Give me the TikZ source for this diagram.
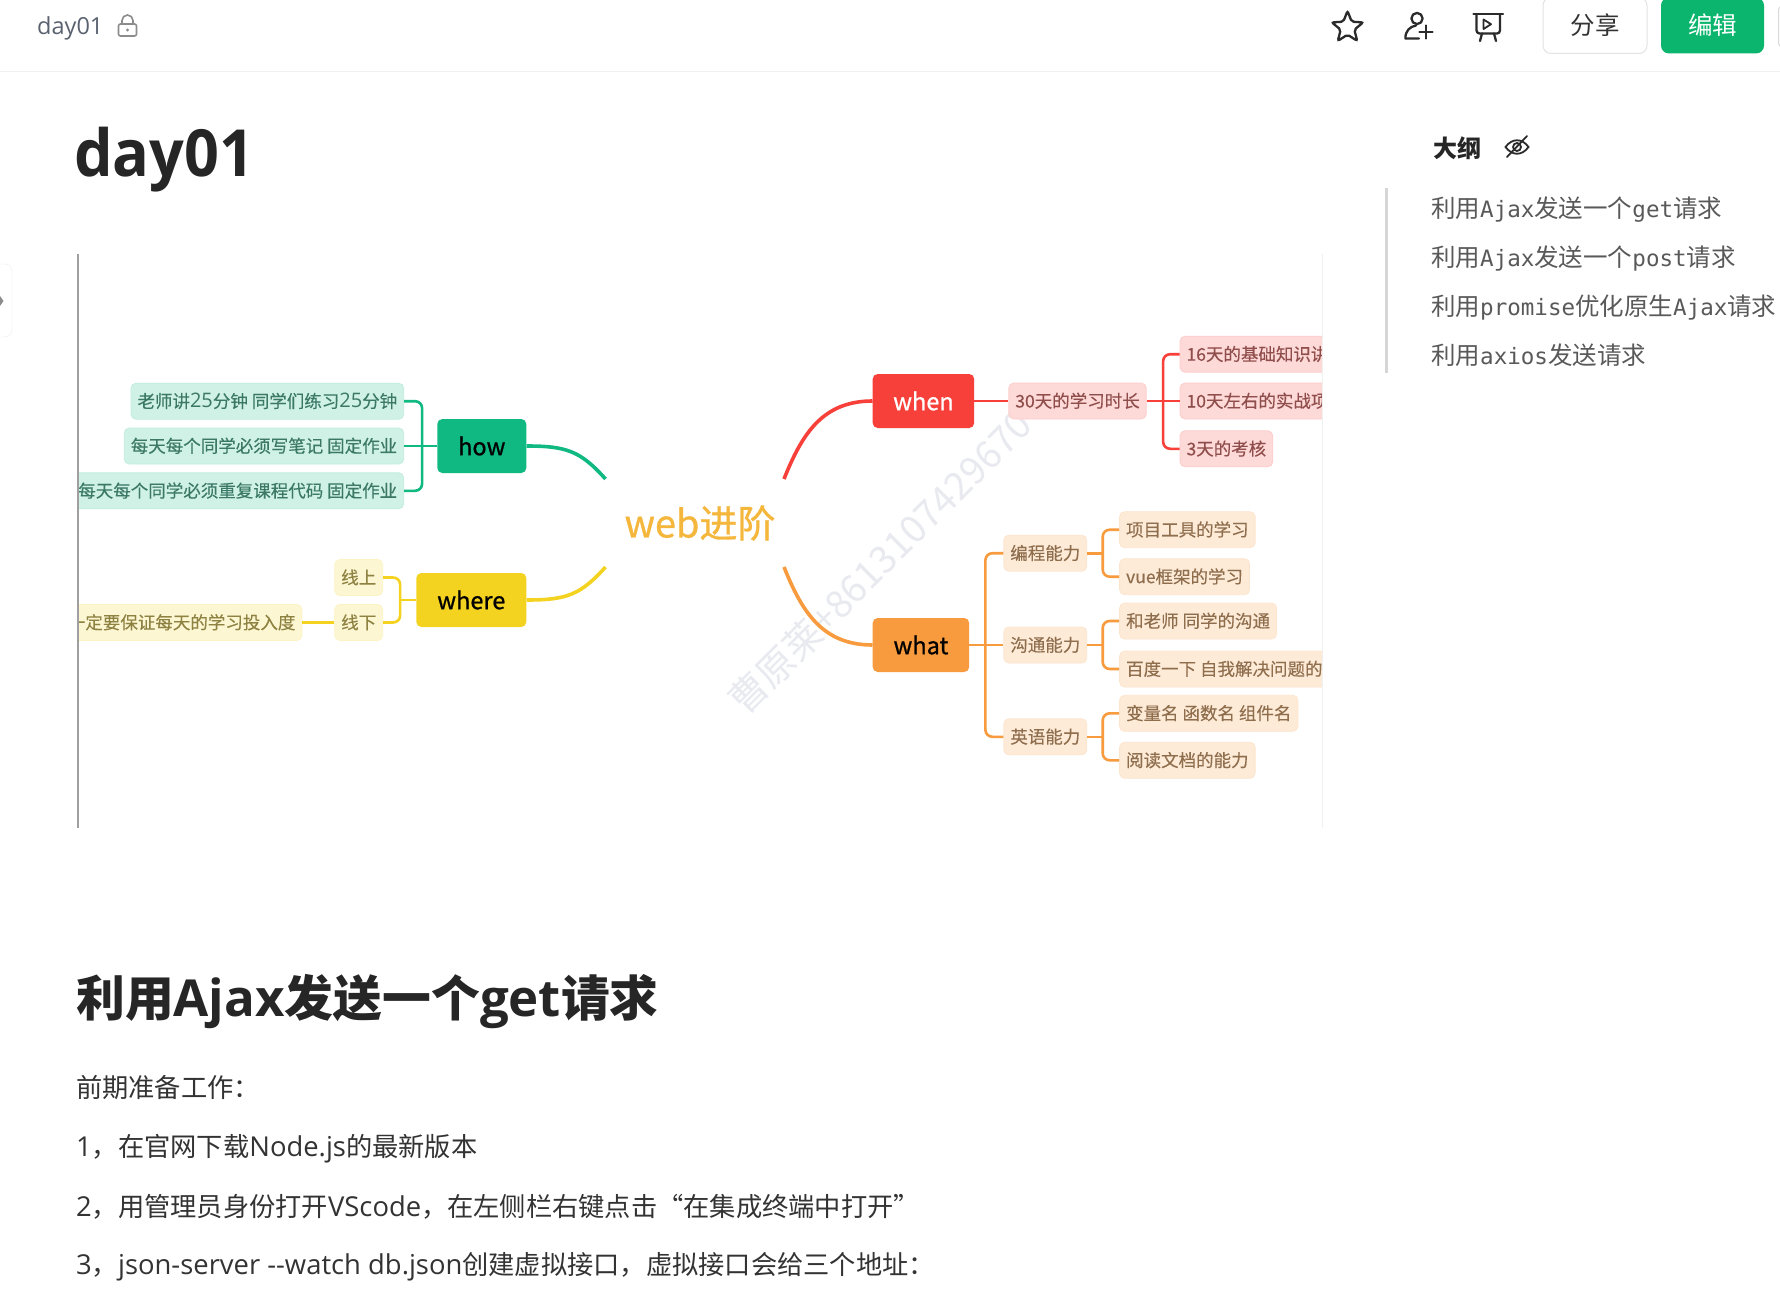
\documentclass[tikz,border=0pt]{standalone}
\usepackage{fontspec}
\usepackage{xcolor}
\usetikzlibrary{
  shapes.geometric,
  positioning,
  calc
}
\setmainfont{Open Sans}
\newfontfamily\cjk{Noto Sans CJK SC}
\newfontfamily\cjkheavy{Noto Sans CJK SC}[FakeBold=0.8]
\newfontfamily\cjkleaf{Noto Sans CJK SC}[FakeBold=0.2]
\newfontfamily\outlinemono{DejaVu Sans Mono}[Scale=0.92]
\newfontfamily\titlefont{Open Sans}[FakeStretch=0.94]
\newcommand{\pxfont}[1]{\fontsize{#1}{#1}\selectfont}
\newcommand{\zh}[1]{{\cjk\pxfont{26.25}#1}}
\newcommand{\wide}[1]{{\rmfamily\pxfont{20}#1}}
\definecolor{MGreen}{HTML}{10B981}
\definecolor{MYellow}{HTML}{F3D31F}
\definecolor{MRed}{HTML}{F7403A}
\definecolor{MOrange}{HTML}{F79B3E}
\definecolor{RootGold}{HTML}{F5B63C}
\definecolor{LeafInk}{HTML}{555555}
\definecolor{PageInk}{HTML}{333333}
\definecolor{TitleInk}{HTML}{262626}
\definecolor{OutlineInk}{HTML}{595959}
\definecolor{CrumbInk}{HTML}{5A6270}
\definecolor{IconInk}{HTML}{2B2B2B}
\definecolor{EditGreen}{HTML}{0BB56D}
\definecolor{RuleGrey}{HTML}{F0F0F0}
\definecolor{MarkGrey}{HTML}{E8EAF0}
\tikzset{
  % Main topic of the mind map
  topic/.style={
    rectangle, rounded corners=5pt,
    fill=#1, minimum height=54pt, inner sep=0pt,
    align=center, font=\cjkheavy\pxfont{23.5}
  },
  % Branch label
  leaf/.style={
    rectangle, rounded corners=5pt,
    draw=#1!26, fill=#1!20, line width=0.8pt,
    minimum height=36pt, inner xsep=6.5pt, inner ysep=0pt,
    text height=14pt, text depth=1pt,
    text=#1!36!LeafInk, font=\cjkleaf\pxfont{17.5}
  },
  % Tree connector
  link/.style={line width=2.6pt, color=#1, rounded corners=7pt},
  % Thick curve into the root
  limb/.style={line width=3.6pt, color=#1},
  % Plain page text
  pagetext/.style={anchor=west, inner sep=0pt, text height=24pt, text depth=4.2pt,
    text=PageInk, font=\pxfont{27.4}},
  outline/.style={anchor=west, inner sep=0pt, text=OutlineInk, font=\cjk\pxfont{24.5}},
  icon/.style={line width=2.3pt, color=IconInk, line cap=round, line join=round}
}

\begin{document}
\begin{tikzpicture}[x=1pt, y=-1pt]

  \useasboundingbox (0,0) rectangle (1780,1308);
  \fill[white] (0,0) rectangle (1780,1308);

  % Top bar
  \node[anchor=west, inner sep=0pt, text=CrumbInk, font=\pxfont{23.5}] (crumb) at (37,28.5) {day01};
  \draw[line width=1.6pt, color=gray!90, rounded corners=2pt] (118.5,24) rectangle (136.5,36);
  \draw[line width=1.6pt, color=gray!90] (122,24) -- (122,20.5) arc[start angle=180, end angle=360, radius=5.5] -- (133,24);
  \fill[gray!90] (127.5,30) circle[radius=1.6];
  \draw[color=RuleGrey, line width=1pt] (0,71.5) -- (1780,71.5);
  \node[star, star points=5, star point ratio=2.3, draw=IconInk, line width=2.3pt,
        rounded corners=2pt, minimum size=33pt, inner sep=0pt] (favstar) at (1347.5,27.5) {};
  \draw[icon] (1417,18.5) circle[radius=5.6];
  \draw[icon] (1416,25.5) .. controls (1410,26.5) and (1405,31) .. (1405.5,38.5) -- (1419,38.5);
  \draw[icon] (1426,25.5) -- (1426,38.5) (1419.5,32) -- (1432.5,32);
  \draw[icon] (1473.5,14) -- (1503,14);
  \draw[icon, rounded corners=3pt] (1476.5,14) -- (1476.5,33.5) -- (1500,33.5) -- (1500,14);
  \draw[icon] (1482,33.5) -- (1480,41) (1494,33.5) -- (1496,41);
  \draw[icon, line width=1.8pt] (1483.5,19.5) -- (1483.5,29) -- (1491,24.2) -- cycle;
  \node[draw=gray!22, fill=white, rounded corners=8pt, line width=1pt, minimum width=104pt,
        minimum height=56pt, inner sep=0pt, text=PageInk, font=\cjk\pxfont{24.5}] (sharebtn) at (1595,25.5) {分享};
  \node[fill=EditGreen, rounded corners=8pt, minimum width=103pt, minimum height=56pt,
        inner sep=0pt, text=white, font=\cjk\pxfont{24.5}] (editbtn) at (1712.5,25.5) {编辑};
  \draw[color=gray!30, line width=1pt, rounded corners=4pt] (1785,47) -- (1778.5,47) -- (1778.5,6) -- (1785,6);

  % Side tab
  \draw[color=gray!15, fill=white, rounded corners=7pt] (-12,264) rectangle (12,337);
  \fill[gray!90] (0,296) -- (3.5,301) -- (0,306) -- cycle;

  % Title
  \node[anchor=west, inner sep=0pt, text=TitleInk, font=\titlefont\bfseries\pxfont{65}] (pagetitle) at (74,160) {day01};

  % Outline
  \node[anchor=west, inner sep=0pt, text=TitleInk, font=\cjk\bfseries\pxfont{24}] (outlinehead) at (1433,148) {大纲};
  \draw[line width=1.8pt, color=IconInk] (1505.5,147) .. controls (1512,138) and (1522,138) .. (1528.5,147)
    .. controls (1522,156) and (1512,156) .. cycle;
  \draw[line width=1.8pt, color=IconInk] (1517,147) circle[radius=4];
  \draw[line width=1.8pt, color=IconInk, line cap=round] (1507,157) -- (1527,136);
  \fill[gray!32] (1384.5,188) rectangle (1388,373);
  \node[outline] (outa) at (1431,210) {利用{\outlinemono Ajax}发送一个{\outlinemono get}请求};
  \node[outline] (outb) at (1431,258.5) {利用{\outlinemono Ajax}发送一个{\outlinemono post}请求};
  \node[outline] (outc) at (1431,307.5) {利用{\outlinemono promise}优化原生{\outlinemono Ajax}请求};
  \node[outline] (outd) at (1431,355.5) {利用{\outlinemono axios}发送请求};

  % Mind map, cut at the edges of the image
  \begin{scope}
    \clip (78,254) rectangle (1322,830);

    \node[rotate=45, inner sep=0pt, text=MarkGrey, font=\cjk\pxfont{38}] (mark) at (880,562) {曹原莱+8613107429670};

    % Root
    \node[inner sep=0pt, text=RootGold, font=\cjkheavy\pxfont{38}] (root) at (700,523) {web进阶};
    \coordinate (rootnw) at ($(root.center)+(-94.5,-44)$);
    \coordinate (rootsw) at ($(root.center)+(-94.5,44)$);
    \coordinate (rootne) at ($(root.center)+(84,-44)$);
    \coordinate (rootse) at ($(root.center)+(84,44)$);

    % How
    \node[topic=MGreen, minimum width=89pt, left=173.5pt of root.center, yshift=77pt] (how) {how};
    \node[leaf=MGreen, left=33pt of how] (howb) {每天每个同学必须写笔记 固定作业};
    \node[leaf=MGreen, above=8pt of howb.north east, anchor=south east] (howa) {老师讲\wide{25}分钟 同学们练习\wide{25}分钟};
    \node[leaf=MGreen, below=8pt of howb.south east, anchor=north east] (howc) {每天每个同学必须重复课程代码 固定作业};
    \coordinate (howj) at ($(how.west)+(-15,0)$);

    % Where
    \node[topic=MYellow, minimum width=110pt, left=173.5pt of root.center, yshift=-77pt] (where) {where};
    \node[leaf=MYellow, left=33pt of where, yshift=22.5pt] (online) {线上};
    \node[leaf=MYellow, left=33pt of where, yshift=-22.5pt] (offline) {线下};
    \node[leaf=MYellow, left=32pt of offline] (effort) {一定要保证每天的学习投入度};
    \coordinate (wherej) at ($(where.west)+(-16,0)$);

    % When
    \node[topic=MRed, minimum width=101.5pt, text=white, right=172.5pt of root.center, yshift=122pt] (when) {when};
    \node[leaf=MRed, right=34pt of when] (span) {30天的学习时长};
    \node[leaf=MRed, right=33pt of span] (ten) {10天左右的实战项};
    \node[leaf=MRed, above=10pt of ten.north west, anchor=south west] (sixteen) {16天的基础知识讲};
    \node[leaf=MRed, below=11pt of ten.south west, anchor=north west] (three) {3天的考核};
    \coordinate (whenj) at ($(span.east)+(16.5,0)$);

    % What
    \node[topic=MOrange, minimum width=96.5pt, right=172.5pt of root.center, yshift=-122pt] (what) {what};
    \node[leaf=MOrange, right=34pt of what] (comm) {沟通能力};
    \node[leaf=MOrange, above=55pt of comm] (prog) {编程能力};
    \node[leaf=MOrange, below=55pt of comm] (eng) {英语能力};
    \coordinate (whatj) at ($(what.east)+(16,0)$);

    \node[leaf=MOrange, right=32pt of prog, yshift=23.5pt] (tools) {项目工具的学习};
    \node[leaf=MOrange, right=32pt of prog, yshift=-23.5pt] (vue) {vue框架的学习};
    \node[leaf=MOrange, right=32pt of comm, yshift=24pt] (teacher) {和老师 同学的沟通};
    \node[leaf=MOrange, right=32pt of comm, yshift=-24pt] (baidu) {百度一下 自我解决问题的};
    \node[leaf=MOrange, right=32pt of eng, yshift=23.5pt] (names) {变量名 函数名 组件名};
    \node[leaf=MOrange, right=32pt of eng, yshift=-23.5pt] (docs) {阅读文档的能力};
    \coordinate (progj) at ($(prog.east)+(15.5,0)$);
    \coordinate (commj) at ($(comm.east)+(15.5,0)$);
    \coordinate (engj) at ($(eng.east)+(15.5,0)$);

    % Limbs
    \draw[limb=MGreen] (how.east) .. controls +(40,0) and ($(rootnw)+(-25,-28)$) .. (rootnw);
    \draw[limb=MYellow] (where.east) .. controls +(40,0) and ($(rootsw)+(-25,28)$) .. (rootsw);
    \draw[limb=MRed] (when.west) .. controls +(-50,0) and ($(rootne)+(18,-45)$) .. (rootne);
    \draw[limb=MOrange] (what.west) .. controls +(-50,0) and ($(rootse)+(18,45)$) .. (rootse);

    % Links
    \draw[link=MGreen] (how.west) -- (howb.east);
    \draw[link=MGreen] (howj) |- (howa.east);
    \draw[link=MGreen] (howj) |- (howc.east);
    \draw[link=MYellow] (where.west) -- (wherej);
    \draw[link=MYellow] (wherej) |- (online.east);
    \draw[link=MYellow] (wherej) |- (offline.east);
    \draw[link=MYellow] (offline.west) -- (effort.east);
    \draw[link=MRed] (when.east) -- (span.west);
    \draw[link=MRed] (span.east) -- (ten.west);
    \draw[link=MRed] (whenj) |- (sixteen.west);
    \draw[link=MRed] (whenj) |- (three.west);
    \draw[link=MOrange] (what.east) -- (comm.west);
    \draw[link=MOrange] (whatj) |- (prog.west);
    \draw[link=MOrange] (whatj) |- (eng.west);
    \draw[link=MOrange] (prog.east) -- (progj);
    \draw[link=MOrange] (progj) |- (tools.west);
    \draw[link=MOrange] (progj) |- (vue.west);
    \draw[link=MOrange] (comm.east) -- (commj);
    \draw[link=MOrange] (commj) |- (teacher.west);
    \draw[link=MOrange] (commj) |- (baidu.west);
    \draw[link=MOrange] (eng.east) -- (engj);
    \draw[link=MOrange] (engj) |- (names.west);
    \draw[link=MOrange] (engj) |- (docs.west);
  \end{scope}

  % Image edges
  \draw[color=gray!75, line width=1.2pt] (78,254) -- (78,828);
  \draw[color=RuleGrey, line width=0.6pt] (1322,254) -- (1322,828);

  % Section
  \node[anchor=west, inner sep=0pt, text=TitleInk, font=\bfseries\pxfont{51}] (sechead) at (76,1002)
    {{\cjk\pxfont{48.8}利用}Ajax{\cjk\pxfont{48.8}发送一个}get{\cjk\pxfont{48.8}请求}};
  \node[pagetext] (prep) at (76,1088) {\zh{前期准备工作：}};
  \node[pagetext] (stepa) at (76,1147) {1\zh{，在官网下载}Node.js\zh{的最新版本}};
  \node[pagetext] (stepb) at (76,1207) {2\zh{，用管理员身份打开}VScode\zh{，在左侧栏右键点击“在集成终端中打开”}};
  \node[pagetext] (stepc) at (76,1265) {3\zh{，}json-server -{}-watch db.json\zh{创建虚拟接口，虚拟接口会给三个地址：}};

\end{tikzpicture}
\end{document}
